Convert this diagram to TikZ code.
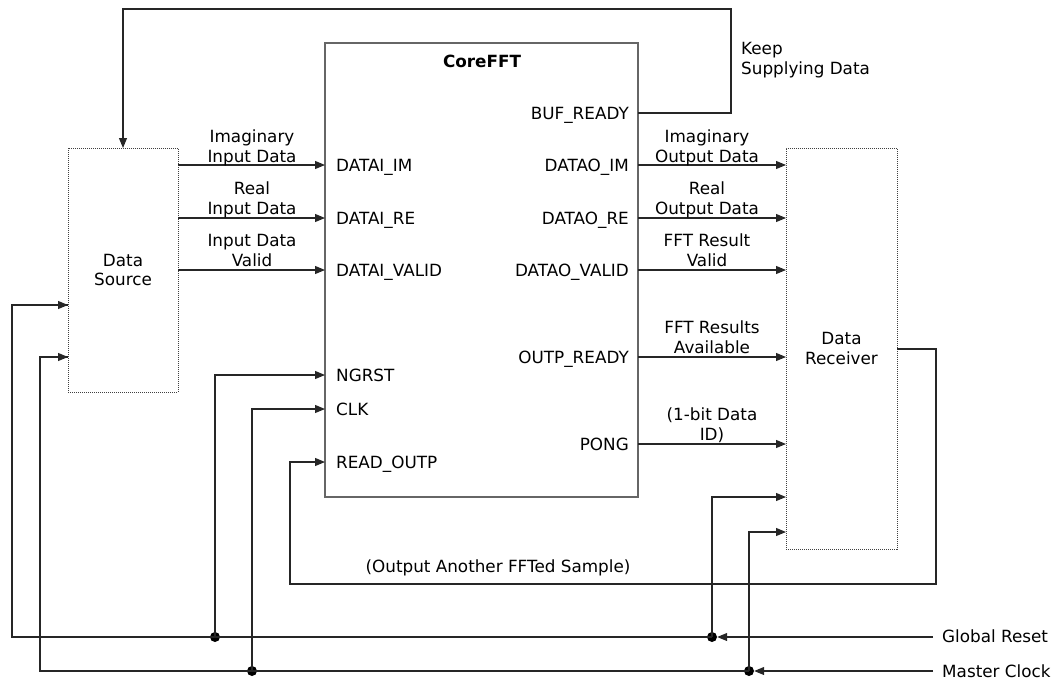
\documentclass[tikz,border=0pt]{standalone}
\usepackage{fontspec}
\setmainfont{DejaVu Sans}
\usetikzlibrary{arrows.meta}
\begin{document}
\begin{tikzpicture}[x=1pt,y=-1pt,
  every node/.style={font=\fontsize{16.8}{19.5}\selectfont, inner sep=0pt},
  wire/.style={line width=1.1pt, draw=black!85},
  sig/.style={wire, -{Triangle[length=10pt,width=8pt]}},
  core/.style={draw=black!60, line width=1.3pt, rectangle},
  dotbox/.style={draw=black!75, line width=1pt, dash pattern=on 1pt off 1pt, rectangle, align=center},
  junction/.style={circle, fill=black, minimum size=10pt, inner sep=0pt},
  lbl/.style={align=center, anchor=base},
  port/.style={anchor=base west},
  portr/.style={anchor=base east}]
\useasboundingbox (0,0) rectangle (1060,680);

% blocks
\node[core, minimum width=313pt, minimum height=454pt] (fft) at (481.5,270) {};
\node[dotbox, minimum width=110pt, minimum height=244pt] (src) at (123,270) {Data\\Source};
\node[dotbox, minimum width=111pt, minimum height=401pt] (rcv) at (841.5,348.5) {Data\\Receiver};
\node[anchor=base, font=\fontsize{16.8}{19.5}\selectfont\bfseries] (title) at (482,67) {CoreFFT};

% port labels
\node[port] (pim) at (336,171) {DATAI\_IM};
\node[port] (pre) at (336,224) {DATAI\_RE};
\node[port] (pva) at (336,276) {DATAI\_VALID};
\node[port] (prst) at (336,381) {NGRST};
\node[port] (pclk) at (336,415) {CLK};
\node[port] (prd) at (336,468) {READ\_OUTP};
\node[portr] (pbuf) at (629,119) {BUF\_READY};
\node[portr] (poim) at (629,171) {DATAO\_IM};
\node[portr] (pore) at (629,224) {DATAO\_RE};
\node[portr] (pova) at (629,276) {DATAO\_VALID};
\node[portr] (pordy) at (629,363) {OUTP\_READY};
\node[portr] (pong) at (629,450) {PONG};

% port coordinates
\coordinate (srcIm) at (178,165);
\coordinate (srcRe) at (178,218);
\coordinate (srcVa) at (178,270);
\coordinate (fIm) at (325,165);
\coordinate (fRe) at (325,218);
\coordinate (fVa) at (325,270);
\coordinate (fRst) at (325,375);
\coordinate (fClk) at (325,409);
\coordinate (fRd) at (325,462);
\coordinate (fBuf) at (638,113);
\coordinate (foIm) at (638,165);
\coordinate (foRe) at (638,218);
\coordinate (foVa) at (638,270);
\coordinate (foRdy) at (638,357);
\coordinate (foPong) at (638,444);
\coordinate (rIm) at (786,165);
\coordinate (rRe) at (786,218);
\coordinate (rVa) at (786,270);
\coordinate (rRdy) at (786,357);
\coordinate (rPong) at (786,444);
\coordinate (rRst) at (786,497);
\coordinate (rClk) at (786,532);
\coordinate (rOut) at (897,349);
\coordinate (sTop) at (123,148);
\coordinate (sRst) at (68,305);
\coordinate (sClk) at (68,357);
\coordinate (grIn) at (933,637);
\coordinate (mcIn) at (933,671);

% junctions
\node[junction] (j1) at (215,637) {};
\node[junction] (j2) at (712,637) {};
\node[junction] (j3) at (252,671) {};
\node[junction] (j4) at (749,671) {};

% data paths
\draw[sig] (srcIm) -- (fIm);
\draw[sig] (srcRe) -- (fRe);
\draw[sig] (srcVa) -- (fVa);
\draw[sig] (foIm) -- (rIm);
\draw[sig] (foRe) -- (rRe);
\draw[sig] (foVa) -- (rVa);
\draw[sig] (foRdy) -- (rRdy);
\draw[sig] (foPong) -- (rPong);
\draw[sig] (fBuf) -- (731,113) -- (731,9) -- (123,9) -- (sTop);
\draw[sig] (rOut) -- (936,349) -- (936,584) -- (290,584) -- (290,462) -- (fRd);

% reset
\draw[sig] (grIn) -- (j2);
\draw[wire] (j2.center) -- (12,637) |- (sRst);
\draw[sig] (12,305) -- (sRst);
\draw[sig] (j1.center) |- (fRst);
\draw[sig] (j2.center) |- (rRst);
% clock
\draw[sig] (mcIn) -- (j4);
\draw[wire] (j4.center) -- (40,671) |- (sClk);
\draw[sig] (40,357) -- (sClk);
\draw[sig] (j3.center) |- (fClk);
\draw[sig] (j4.center) |- (rClk);

% signal labels (base = baseline of last line)
\node[lbl] (l1) at (252,162) {Imaginary\\Input Data};
\node[lbl] (l2) at (252,214) {Real\\Input Data};
\node[lbl] (l3) at (252,266) {Input Data\\Valid};
\node[lbl] (l4) at (707,162) {Imaginary\\Output Data};
\node[lbl] (l5) at (707,214) {Real\\Output Data};
\node[lbl] (l6) at (707,266) {FFT Result\\Valid};
\node[lbl] (l7) at (712,353) {FFT Results\\Available};
\node[lbl] (l8) at (712,440) {(1-bit Data\\ID)};
\node[anchor=base west, align=left] (l9) at (741,74) {Keep\\Supplying Data};
\node[anchor=base] (l10) at (498,572) {(Output Another FFTed Sample)};
\node[anchor=base west] (l11) at (942,642) {Global Reset};
\node[anchor=base west] (l12) at (942,677) {Master Clock};
\end{tikzpicture}
\end{document}
